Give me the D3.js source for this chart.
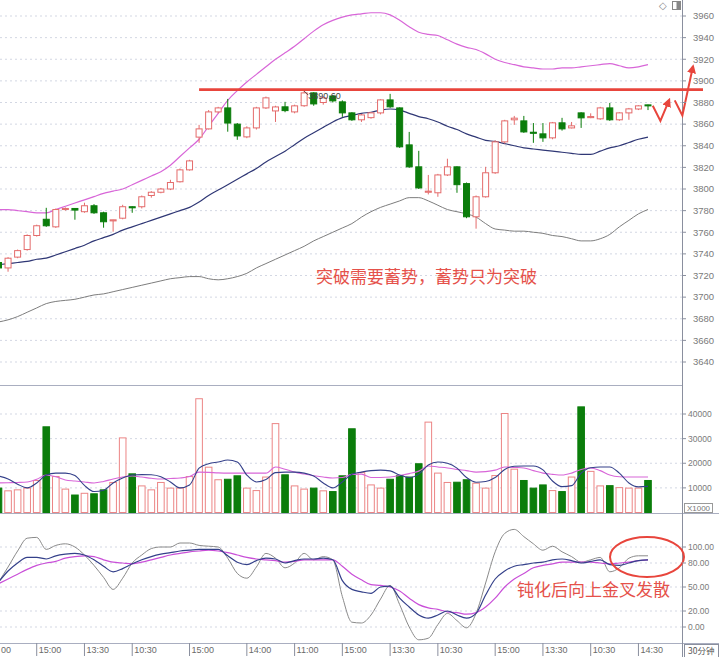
<!DOCTYPE html>
<html><head><meta charset="utf-8">
<script src="https://cdn.jsdelivr.net/npm/d3@7"></script>
<style>body{margin:0;background:#fff;} svg{display:block;font-family:"Liberation Sans",Arial,sans-serif;}</style>
</head><body><svg id="c" width="719" height="657"></svg>
<script>
// ---------- data ----------
const openP  = [3732,3727,3737,3744,3757,3772,3765,3781,3782,3779,3784.5,3778,3770.5,3773,3783.6,3783.6,3794,3797,3800,3806.7,3817.7,3848,3855.6,3871.3,3875,3860,3848.2,3856.5,3875,3872.2,3876,3871.3,3877,3888.9,3880,3886,3880.6,3870.4,3864,3866,3870.4,3882.4,3875,3840.8,3820.5,3797,3796.5,3813,3820.5,3805,3774.3,3792.8,3815,3843.6,3864,3863,3852.5,3851,3847.3,3861.2,3856.5,3870.4,3866,3864.9,3875,3864,3870.4,3874,3877.8];
const closeP = [3727,3736,3743,3757,3766,3766,3781,3782,3780.5,3784.5,3778,3769.7,3771.5,3783.6,3782.6,3792.8,3797,3800,3806,3817.7,3826,3855.6,3871.3,3875,3861,3849.1,3856.5,3875,3884.3,3875.9,3872.5,3876.9,3888.9,3878.7,3884.3,3881.5,3870.4,3864,3868.5,3870.4,3882.4,3876,3839,3820.5,3801,3798,3813,3820.5,3804,3774.3,3792.8,3815,3843.6,3863,3865.5,3852.8,3851.5,3847.3,3861.2,3855.6,3858.4,3865.8,3867,3875,3864,3870.4,3874.1,3876.9,3877];
const highP  = [3733,3737,3744,3758,3767,3782.6,3782,3783,3782,3787.3,3786,3779,3771.5,3785.4,3784,3794,3798,3801,3808.5,3819,3827,3859.3,3873,3876,3883.3,3861,3858,3876,3885.5,3877,3880.6,3878,3890.6,3889.5,3886,3887,3882,3871,3869.5,3871,3883,3888,3875.5,3852.8,3835.3,3813,3814,3828,3821,3806,3794,3820.5,3845,3864,3867.6,3867.6,3861,3861,3862,3865.8,3862,3871,3870,3876,3879.6,3871,3875,3877.5,3878];
const lowP   = [3726,3723.5,3736,3743,3756,3765,3764,3780,3771.6,3778,3777,3764.2,3760.5,3772,3778,3782,3792,3796,3799,3806,3817,3842.7,3855,3870,3853,3845.5,3847,3855,3874,3862,3871,3870,3876,3877,3878,3880,3866.7,3863,3862,3865,3869,3875,3838,3819.5,3800,3795,3792.8,3812,3796.5,3773,3763.3,3792,3814,3842,3859.3,3851.9,3842.7,3843.6,3846,3854,3856,3856.5,3865.5,3864,3863,3863,3864,3873,3873];
const bollUpper = [3781,3781,3780,3779,3778,3778,3781,3784,3787,3790,3793,3796,3798,3800,3804,3808,3812,3816,3822,3830,3838,3846,3858,3870,3882,3891,3899,3906,3913,3920,3926,3932,3939,3946,3952,3956,3959,3961,3962,3963,3963,3961,3956,3950,3945,3943,3942,3938,3934,3931,3929,3925,3920,3917,3915,3913,3912,3911,3911,3912,3912,3913,3914,3915,3916,3914,3912,3913,3915];
const bollMid = [3730,3731,3732,3733,3735,3736,3739,3742,3745,3748,3752,3755,3758,3762,3765,3768,3771,3774,3777,3780,3783,3788,3794,3799,3804,3809,3814,3819,3825,3830,3835,3841,3847,3852,3857,3862,3866,3868,3870,3871,3873,3874,3873,3870,3867,3865,3862,3858,3855,3851,3848,3845,3844,3842,3840,3838,3837,3836,3835,3834,3833,3832,3832,3835,3838,3840,3843,3846,3848];
const bollLower = [3677,3679,3682,3686,3690,3694,3696,3697,3698,3700,3702,3703,3705,3707,3709,3711,3713,3715,3717,3718,3719,3719,3717,3716,3717,3719,3722,3727,3731,3735,3739,3743,3747,3752,3756,3760,3764,3768,3774,3779,3783,3786,3789,3792,3792,3789,3785,3781,3779,3777,3774,3768,3763,3762,3761,3761,3760,3759,3757,3756,3754,3752,3752,3754,3758,3765,3771,3777,3781];
const volume = [9900,8800,9200,9900,13000,34800,14600,9500,7100,7800,7600,9200,12200,30300,15700,10800,9200,12200,9900,9900,14600,46200,18400,13300,13500,14900,9900,8900,14400,36100,15300,10800,9500,9900,8800,8500,14900,34000,16200,11200,9900,13500,15000,14400,19800,36700,16000,12200,12300,13300,11900,9900,15000,40200,17600,13000,9900,11200,8900,8500,14400,42900,16700,10800,10900,10100,9900,9900,13000];
const volMa5 = [14800,13600,11500,10000,12000,15200,16000,16000,15000,11000,8500,9000,12000,14000,15200,15400,15300,14500,12400,10000,11200,18000,19800,20500,21300,20500,15200,12400,13400,16200,16400,16400,16000,14800,12000,10000,12400,15500,16400,17000,17200,16900,15200,14200,15600,19300,20500,20000,18000,14200,12300,12600,14200,17500,18800,18900,18900,17300,12800,10500,10900,16000,18200,18500,18500,16000,12000,10400,10600];
const volMa10 = [12000,12100,12200,12400,13500,15200,14500,13200,12800,12400,12000,12600,13600,14400,14800,14400,13900,13600,13800,14000,14600,16400,16300,16100,16000,16000,16000,16000,16000,18500,17600,16400,15600,14900,14400,14000,14200,15500,15600,14200,14200,14400,15000,15800,16800,18900,18500,18100,17500,17000,16400,16600,17200,18500,18300,18100,17000,16000,15500,15200,16000,17500,18100,17000,15200,14500,14400,14400,14400];
const kdjK = [56,70,80,87,87,85,89,91,92,90,84,76,69,73,79,84,88,91,93,95,96,97,97,97,89,81,78,83,86,85,80,83,85,85,86,84,58,47,44,42,50,51,36,25,15,11,15,20,15,11,17,40,60,70,76,78,80,81,84,85,83,80,82,84,78,77,80,83,84];
const kdjD = [54,60,66,72,77,80,82,86,88,89,88,84,81,80,79,81,84,87,90,92,94,95,96,95,93,90,87,85,84,83,81,82,84,84,84,84,76,66,59,53,52,50,45,36,28,24,22,19,18,16,18,25,36,50,60,67,74,77,79,81,81,81,81,80,79,80,81,83,84];
const kdjJ = [56,75,95,111,112,97,102,104,100,90,77,62,47,61,80,90,98,100,100,105,105,102,101,100,86,67,61,75,92,86,74,80,92,84,88,84,38,6,5,15,35,52,28,0,-16,-14,3,17,8,-1,17,55,94,117,122,113,104,96,101,94,88,81,84,87,69,74,86,89,89];
const priceTicks = [3640,3660,3680,3700,3720,3740,3760,3780,3800,3820,3840,3860,3880,3900,3920,3940,3960];
const volTicks = [10000,20000,30000,40000];
const kdjTicks = [0,20,50,80,100];
const timeTickIdx = [4,9,14,20,26,31,36,41,46,52,57,62,67];
const timeTickLabels = ["15:00","13:30","10:30","15:00","14:00","11:00","15:00","13:30","10:30","15:00","13:30","10:30","14:30"];
const edgeLabel = "00";
const resistance = 3892;
const highMarkIdx = 32;
const forecast1 = [[68.5,3877],[69.3,3863],[70.2,3882]];
const forecast2 = [[70.8,3882],[71.6,3868],[72.7,3913]];
const note1 = "突破需要蓄势，蓄势只为突破";
const note2 = "钝化后向上金叉发散";

// ---------- scales ----------
const svg = d3.select('#c');
const R = 682;
const x = d3.scaleLinear().domain([0,68]).range([-1.5,648]);
const yP = d3.scaleLinear().domain([3640,3960]).range([362,16]);
const yV = d3.scaleLinear().domain([0,40000]).range([512.5,414]);
const yK = d3.scaleLinear().domain([0,100]).range([627,547]);
const idx = d3.range(openP.length);

const red = "#e8453c", up = "#e46b6b", down = "#0b7d0b";
const gridC = "#d3d7e3";

// grid
const grid = svg.append('g').attr('stroke',gridC).attr('stroke-dasharray','2,3');
priceTicks.forEach(t=>grid.append('line').attr('x1',0).attr('x2',R).attr('y1',yP(t)).attr('y2',yP(t)));
volTicks.forEach(t=>grid.append('line').attr('x1',0).attr('x2',R).attr('y1',yV(t)).attr('y2',yV(t)));
kdjTicks.forEach(t=>grid.append('line').attr('x1',0).attr('x2',R).attr('y1',yK(t)).attr('y2',yK(t)));

// panel frames
const fr = svg.append('g').attr('stroke','#a9aec0').attr('stroke-width',1);
fr.append('line').attr('x1',0).attr('x2',R).attr('y1',385.5).attr('y2',385.5);
fr.append('line').attr('x1',0).attr('x2',719).attr('y1',513.5).attr('y2',513.5);
fr.append('line').attr('x1',0).attr('x2',719).attr('y1',643.5).attr('y2',643.5);
fr.append('line').attr('x1',R+0.5).attr('x2',R+0.5).attr('y1',0).attr('y2',657).attr('stroke','#8a8f9e');

// bollinger
const bl = (arr)=>d3.line().x((d,i)=>x(i)).y(d=>yP(d)).curve(d3.curveMonotoneX)(arr);
svg.append('path').attr('d',bl(bollUpper)).attr('fill','none').attr('stroke','#d866d8').attr('stroke-width',1.2);
svg.append('path').attr('d',bl(bollMid)).attr('fill','none').attr('stroke','#2f3775').attr('stroke-width',1.2);
svg.append('path').attr('d',bl(bollLower)).attr('fill','none').attr('stroke','#7d7d7d').attr('stroke-width',1);

// candles
const cg = svg.append('g');
idx.forEach(i=>{
  const o=openP[i], c=closeP[i], isUp = c>=o;
  const col = isUp?up:down;
  cg.append('line').attr('x1',x(i)).attr('x2',x(i)).attr('y1',yP(highP[i])).attr('y2',yP(lowP[i])).attr('stroke',col).attr('stroke-width',1);
  const top = yP(Math.max(o,c)), h = Math.max(1, yP(Math.min(o,c))-top);
  cg.append('rect').attr('x',x(i)-3).attr('y',top).attr('width',6).attr('height',h)
    .attr('fill',isUp?'#fff':down).attr('stroke',col).attr('stroke-width',1);
});

// resistance line
svg.append('line').attr('x1',x(21)).attr('x2',703).attr('y1',yP(resistance)).attr('y2',yP(resistance)).attr('stroke',red).attr('stroke-width',2.8);

// high mark
const hx = x(highMarkIdx), hy = yP(highP[highMarkIdx]);
svg.append('line').attr('x1',hx).attr('y1',hy).attr('x2',hx+4).attr('y2',hy+4).attr('stroke','#333').attr('stroke-width',0.8);
svg.append('text').attr('x',hx+4).attr('y',hy+8).attr('font-size',9).attr('fill','#444').text(highP[highMarkIdx].toFixed(2));

// forecast arrows
svg.append('defs').append('marker').attr('id','ah').attr('viewBox','0 0 10 10').attr('refX',7).attr('refY',5)
  .attr('markerWidth',4.5).attr('markerHeight',4.5).attr('orient','auto')
  .append('path').attr('d','M0,0L10,5L0,10z').attr('fill',red);
const fl = d3.line().x(d=>x(d[0])).y(d=>yP(d[1]));
[forecast1,forecast2].forEach(f=>svg.append('path').attr('d',fl(f)).attr('fill','none').attr('stroke',red).attr('stroke-width',2).attr('marker-end','url(#ah)'));

// note 1
svg.append('text').attr('x',316).attr('y',283).attr('font-size',17).attr('fill','#e5514a')
  .attr('font-family','"Noto Sans CJK SC",sans-serif').text(note1);

// volume bars
const vg = svg.append('g');
idx.forEach(i=>{
  const isUp = closeP[i]>=openP[i];
  vg.append('rect').attr('x',x(i)-3.3).attr('y',yV(volume[i])).attr('width',6.6).attr('height',yV(0)-yV(volume[i]))
    .attr('fill',isUp?'#fff':down).attr('stroke',isUp?'#ec8585':down).attr('stroke-width',1);
});
const vl = (arr)=>d3.line().x((d,i)=>x(i)).y(d=>yV(d)).curve(d3.curveMonotoneX)(arr);
svg.append('path').attr('d',vl(volMa10)).attr('fill','none').attr('stroke','#d866d8').attr('stroke-width',1.1);
svg.append('path').attr('d',vl(volMa5)).attr('fill','none').attr('stroke','#34408a').attr('stroke-width',1.1);

// KDJ
const kl = (arr)=>d3.line().x((d,i)=>x(i)).y(d=>yK(d)).curve(d3.curveMonotoneX)(arr);
svg.append('path').attr('d',kl(kdjJ)).attr('fill','none').attr('stroke','#8a8a8a').attr('stroke-width',1);
svg.append('path').attr('d',kl(kdjD)).attr('fill','none').attr('stroke','#c94fd8').attr('stroke-width',1.2);
svg.append('path').attr('d',kl(kdjK)).attr('fill','none').attr('stroke','#34408a').attr('stroke-width',1.2);
svg.append('ellipse').attr('cx',647).attr('cy',557).attr('rx',37).attr('ry',20).attr('fill','none').attr('stroke',red).attr('stroke-width',2);
svg.append('text').attr('x',517).attr('y',596).attr('font-size',17).attr('fill','#e5514a')
  .attr('font-family','"Noto Sans CJK SC",sans-serif').text(note2);

// right axis labels
const ax = svg.append('g').attr('fill','#7a7a7a');
priceTicks.forEach(t=>{
  ax.append('text').attr('x',693).attr('y',yP(t)).attr('dy','0.35em').attr('font-size',9.5).text(t);
  svg.append('line').attr('x1',R).attr('x2',R+4).attr('y1',yP(t)).attr('y2',yP(t)).attr('stroke','#8a8f9e');
});
volTicks.forEach(t=>{
  ax.append('text').attr('x',688).attr('y',yV(t)).attr('dy','0.35em').attr('font-size',8.5).text(t);
  svg.append('line').attr('x1',R).attr('x2',R+4).attr('y1',yV(t)).attr('y2',yV(t)).attr('stroke','#8a8f9e');
});
kdjTicks.forEach(t=>{
  ax.append('text').attr('x',688).attr('y',yK(t)).attr('dy','0.35em').attr('font-size',8.5).text(t.toFixed(2));
  svg.append('line').attr('x1',R).attr('x2',R+4).attr('y1',yK(t)).attr('y2',yK(t)).attr('stroke','#8a8f9e');
});
svg.append('rect').attr('x',684.5).attr('y',503.5).attr('width',28).attr('height',9).attr('fill','#fff').attr('stroke','#999');
svg.append('text').attr('x',698.5).attr('y',511).attr('text-anchor','middle').attr('font-size',8).attr('fill','#777').text('X1000');

// top-right icons
svg.append('text').attr('x',659).attr('y',9).attr('font-size',10).attr('fill','#888').text('◇');
svg.append('rect').attr('x',672.5).attr('y',1.5).attr('width',8).attr('height',8).attr('fill','#fff').attr('stroke','#888');
svg.append('rect').attr('x',676.5).attr('y',1.5).attr('width',4).attr('height',8).attr('fill','#888');

// time axis
svg.append('text').attr('x',1).attr('y',653).attr('font-size',9).attr('fill','#6a6a6a').text(edgeLabel);
timeTickIdx.forEach((t,k)=>{
  const tx = x(t);
  svg.append('line').attr('x1',tx).attr('x2',tx).attr('y1',643).attr('y2',656).attr('stroke','#8a8f9e');
  svg.append('text').attr('x',tx+2).attr('y',653).attr('font-size',9).attr('fill','#6a6a6a').text(timeTickLabels[k]);
});
svg.append('rect').attr('x',684.5).attr('y',644.5).attr('width',34).attr('height',13).attr('fill','#fff').attr('stroke','#8a8f9e');
svg.append('text').attr('x',688).attr('y',654).attr('font-size',8.5).attr('fill','#555').attr('font-family','"Noto Sans CJK SC",sans-serif').text('30分钟');
</script></body></html>
